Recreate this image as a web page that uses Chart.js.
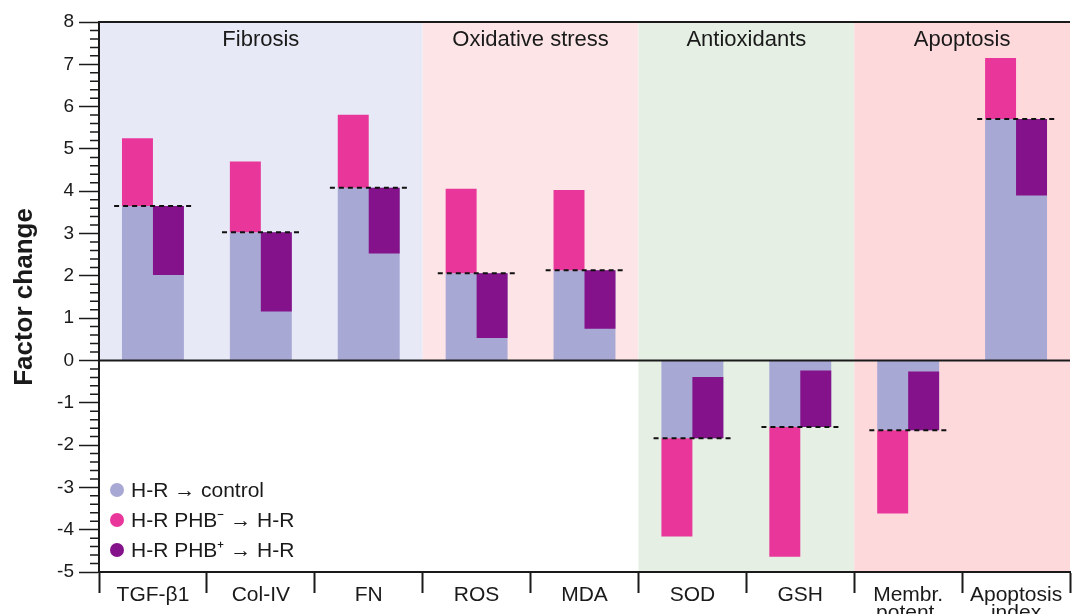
<!DOCTYPE html>
<html>
<head>
<meta charset="utf-8">
<title>Factor change</title>
<script src="https://cdn.jsdelivr.net/npm/chart.js"></script>
<style>
    body {
        margin: 0;
        padding: 0;
        background: white;
    }

    .wrap {
        width: 1072px;
        height: 614px;
        overflow: hidden;
    }
</style>
</head>
<body>
<div class="wrap"><canvas id="chart" width="1072" height="614"></canvas></div>
<script>
    // categories on the x axis
    const categories = ['TGF-β1', 'Col-IV', 'FN', 'ROS', 'MDA', 'SOD', 'GSH', ['Membr.', 'potent.'], ['Apoptosis', 'index']];

    // H-R -> control (bar from 0, dashed line at its top)
    const control = [3.65, 3.03, 4.08, 2.06, 2.13, -1.84, -1.57, -1.65, 5.71];
    // far end of the H-R PHB- -> H-R bar (starts at control value)
    const phbMinus = [5.25, 4.70, 5.81, 4.06, 4.03, -4.16, -4.64, -3.62, 7.15];
    // far end of the H-R PHB+ -> H-R bar (starts at control value)
    const phbPlus = [2.02, 1.16, 2.53, 0.53, 0.75, -0.39, -0.24, -0.26, 3.90];

    const seriesNames = ['H-R → control', 'H-R PHB⁻ → H-R', 'H-R PHB⁺ → H-R'];

    // shaded groups of categories
    const groupNames = ['Fibrosis', 'Oxidative stress', 'Antioxidants', 'Apoptosis'];
    const groupFirst = [0, 3, 5, 7];
    const groupLast = [2, 4, 6, 8];

    const yTicks = [-5, -4, -3, -2, -1, 0, 1, 2, 3, 4, 5, 6, 7, 8];

    const textColor = '#1a1a1a';
    const fontFamily = "'Liberation Sans', Arial, sans-serif";
    const colors = ['#a8a8d5', '#e8369a', '#84128a'];
    const groupColors = ['#e8e9f7', '#fde5e7', '#e5efe4', '#fdd9dc'];
    const groupBelowZero = [false, false, true, true];

    Chart.defaults.font.family = fontFamily;
    Chart.defaults.color = textColor;

    const decorations = {
        id: 'decorations',
        beforeDraw(chart) {
            const ctx = chart.ctx;
            const area = chart.chartArea;
            const x = chart.scales.x;
            const y = chart.scales.y;
            const half = (x.getPixelForValue(1) - x.getPixelForValue(0)) / 2;
            const zero = y.getPixelForValue(0);
            ctx.save();
            for (let g = 0; g < groupNames.length; g++) {
                const left = x.getPixelForValue(groupFirst[g]) - half;
                const right = x.getPixelForValue(groupLast[g]) + half;
                const bottom = groupBelowZero[g] ? area.bottom : zero;
                ctx.fillStyle = groupColors[g];
                ctx.fillRect(left, area.top, right - left, bottom - area.top);
                ctx.fillStyle = textColor;
                ctx.font = '22px ' + fontFamily;
                ctx.textAlign = 'center';
                ctx.textBaseline = 'middle';
                ctx.fillText(groupNames[g], (left + right) / 2, area.top + 18);
            }
            ctx.restore();
        },
        afterDatasetsDraw(chart) {
            const ctx = chart.ctx;
            const area = chart.chartArea;
            const x = chart.scales.x;
            const y = chart.scales.y;
            const half = (x.getPixelForValue(1) - x.getPixelForValue(0)) / 2;
            ctx.save();
            // dashed reference lines at the control value
            ctx.strokeStyle = '#111';
            ctx.lineWidth = 2;
            ctx.setLineDash([5, 4]);
            control.forEach((v, i) => {
                const cx = x.getPixelForValue(i);
                const py = y.getPixelForValue(v);
                ctx.beginPath();
                ctx.moveTo(cx - half * 0.72, py);
                ctx.lineTo(cx + half * 0.72, py);
                ctx.stroke();
            });
            ctx.setLineDash([]);
            // zero line and top frame
            ctx.strokeStyle = textColor;
            ctx.lineWidth = 2;
            ctx.beginPath();
            ctx.moveTo(area.left, y.getPixelForValue(0));
            ctx.lineTo(area.right, y.getPixelForValue(0));
            ctx.moveTo(area.left, area.top);
            ctx.lineTo(area.right, area.top);
            ctx.stroke();
            // minor ticks on the y axis
            ctx.lineWidth = 1.5;
            ctx.beginPath();
            for (let k = yTicks[0] * 5; k <= yTicks[yTicks.length - 1] * 5; k++) {
                if (k % 5 === 0) continue;
                const py = y.getPixelForValue(k / 5);
                ctx.moveTo(area.left - 9, py);
                ctx.lineTo(area.left, py);
            }
            ctx.stroke();
            ctx.restore();
        },
        afterDraw(chart) {
            // legend in the lower left of the plot
            const ctx = chart.ctx;
            const area = chart.chartArea;
            ctx.save();
            ctx.font = '21px ' + fontFamily;
            ctx.textAlign = 'left';
            ctx.textBaseline = 'middle';
            chart.data.datasets.forEach((ds, i) => {
                const py = area.bottom - 82 + i * 30;
                ctx.fillStyle = ds.backgroundColor;
                ctx.beginPath();
                ctx.arc(area.left + 18, py, 7, 0, Math.PI * 2);
                ctx.fill();
                ctx.fillStyle = textColor;
                ctx.fillText(ds.label, area.left + 32, py + 1);
            });
            ctx.restore();
        }
    };

    new Chart(document.getElementById('chart'), {
        type: 'bar',
        data: {
            labels: categories,
            datasets: [{
                label: seriesNames[0],
                data: control,
                backgroundColor: colors[0],
                grouped: false,
                barPercentage: 0.574,
                categoryPercentage: 1,
                order: 2
            }, {
                label: seriesNames[1],
                data: control.map((c, i) => [c, phbMinus[i]]),
                backgroundColor: colors[1],
                barPercentage: 1,
                categoryPercentage: 0.574,
                order: 1
            }, {
                label: seriesNames[2],
                data: control.map((c, i) => [c, phbPlus[i]]),
                backgroundColor: colors[2],
                barPercentage: 1,
                categoryPercentage: 0.574,
                order: 1
            }]
        },
        options: {
            responsive: false,
            animation: false,
            layout: {
                padding: { top: 22, right: 2, left: 0, bottom: 0 }
            },
            plugins: {
                legend: { display: false },
                tooltip: { enabled: false }
            },
            scales: {
                x: {
                    type: 'category',
                    offset: true,
                    ticks: {
                        color: textColor,
                        font: { size: 21, lineHeight: 0.85 },
                        padding: -7,
                        maxRotation: 0,
                        autoSkip: false
                    },
                    grid: {
                        offset: true,
                        drawOnChartArea: false,
                        tickLength: 21,
                        tickColor: textColor,
                        tickWidth: 2
                    },
                    border: { color: textColor, width: 2 },
                    afterFit: (s) => { s.height = 42; }
                },
                y: {
                    min: yTicks[0],
                    max: yTicks[yTicks.length - 1],
                    afterBuildTicks: (s) => { s.ticks = yTicks.map(v => ({ value: v })); },
                    ticks: {
                        color: textColor,
                        font: { size: 19 },
                        padding: 5
                    },
                    grid: {
                        drawOnChartArea: false,
                        tickLength: 20,
                        tickColor: textColor,
                        tickWidth: 1.5
                    },
                    border: { color: textColor, width: 2 },
                    title: {
                        display: true,
                        text: 'Factor change',
                        color: textColor,
                        font: { size: 26, weight: 'bold' },
                        padding: { top: 9, bottom: 0 }
                    },
                    afterFit: (s) => { s.width = 99; }
                }
            }
        },
        plugins: [decorations]
    });
</script>
</body>
</html>
